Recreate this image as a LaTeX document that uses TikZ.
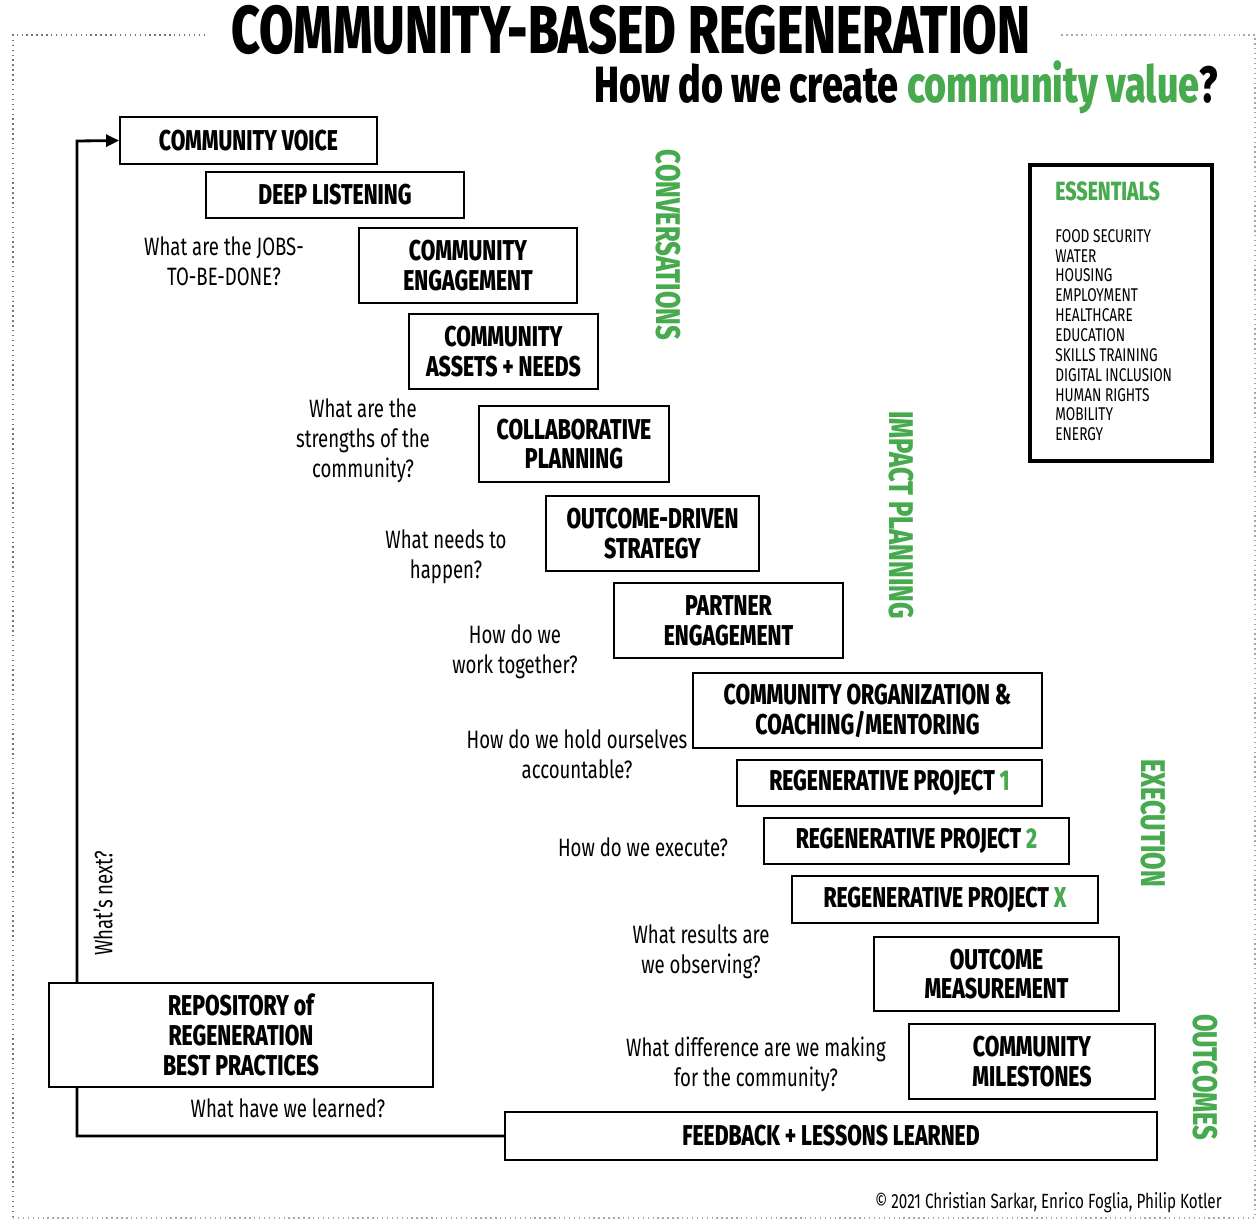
\documentclass[tikz,border=0pt]{standalone}
\usepackage{fontspec}
\setmainfont{Fira Sans}[FakeStretch=0.74,BoldFont={Fira Sans ExtraBold}]
\usetikzlibrary{arrows.meta,positioning}
\definecolor{ecogreen}{RGB}{72,170,78}

\begin{document}
\begin{tikzpicture}[x=0.02cm,y=-0.02cm]
\tikzset{
  stepbox/.style={draw=black,line width=1.1pt,fill=white,align=center,inner sep=1pt,font=\bfseries\fontsize{16.3}{17}\selectfont},
  question/.style={align=center,inner sep=1pt,font=\fontsize{14.3}{17}\selectfont},
  phase/.style={rotate=-90,text=ecogreen,inner sep=1pt,font=\bfseries\fontsize{19.5}{20}\selectfont},
  loopline/.style={draw=black,line width=1.6pt,-{Triangle[length=2.6mm,width=2.4mm]}},
  frameline/.style={draw=gray!70,line width=0.8pt,dotted}
}
\useasboundingbox (0,0) rectangle (1258,1221);
% frame and headings
\draw[frameline,draw=gray!90!black] (205,35) -- (13,35) -- (13,1218);
\draw[frameline] (13,1218) -- (1255,1218) -- (1255,35) -- (1058,35);
\node[font=\bfseries\fontsize{38.5}{40}\selectfont] (title) at (631,30) {COMMUNITY-BASED REGENERATION};
\node[anchor=east,font=\bfseries\fontsize{29}{30}\selectfont] (subtitle) at (1224,87)
  {How do we create \textcolor{ecogreen}{community value}?};

% steps
\node[stepbox,minimum width=5.14cm,minimum height=0.94cm] (voice) at (248.5,140.5) {COMMUNITY VOICE};
\node[stepbox,minimum width=5.16cm,minimum height=0.92cm] (listening) at (335,195) {DEEP LISTENING};
\node[stepbox,minimum width=4.36cm,minimum height=1.5cm] (engage) at (468,265.5) {COMMUNITY\\ENGAGEMENT};
\node[stepbox,minimum width=3.78cm,minimum height=1.5cm] (assets) at (503.5,351.5) {COMMUNITY\\ASSETS + NEEDS};
\node[stepbox,minimum width=3.8cm,minimum height=1.52cm] (collab) at (574,444) {COLLABORATIVE\\PLANNING};
\node[stepbox,minimum width=4.26cm,minimum height=1.5cm] (strategy) at (652.5,533.5) {OUTCOME-DRIVEN\\STRATEGY};
\node[stepbox,minimum width=4.58cm,minimum height=1.5cm] (partner) at (728.5,620.5) {PARTNER\\ENGAGEMENT};
\node[stepbox,minimum width=6.98cm,minimum height=1.5cm] (organize) at (867.5,710.5) {COMMUNITY ORGANIZATION \&\\COACHING/MENTORING};
\node[stepbox,minimum width=6.1cm,minimum height=0.92cm] (projone) at (889.5,783) {REGENERATIVE PROJECT \textcolor{ecogreen}{1}};
\node[stepbox,minimum width=6.1cm,minimum height=0.92cm] (projtwo) at (916.5,841) {REGENERATIVE PROJECT \textcolor{ecogreen}{2}};
\node[stepbox,minimum width=6.12cm,minimum height=0.94cm] (projx) at (945,899.5) {REGENERATIVE PROJECT \textcolor{ecogreen}{X}};
\node[stepbox,minimum width=4.9cm,minimum height=1.48cm] (measure) at (996.5,974) {OUTCOME\\MEASUREMENT};
\node[stepbox,minimum width=4.92cm,minimum height=1.5cm] (milestone) at (1032,1061.5) {COMMUNITY\\MILESTONES};
\node[stepbox,minimum width=13.04cm,minimum height=0.96cm] (feedback) at (831,1136) {FEEDBACK + LESSONS LEARNED};

% loop back to the start
\coordinate (looptop) at (77,141);
\draw[loopline] (feedback.west) -| (looptop) -- (voice.west);
\node[stepbox,minimum width=7.68cm,minimum height=2.08cm] (repository) at (241,1035) {REPOSITORY of\\REGENERATION\\BEST PRACTICES};

% questions
\node[question] (qjobs) at (224,261) {What are the JOBS-\\TO-BE-DONE?};
\node[question] (qstrength) at (363,441) {What are the\\strengths of the\\community?};
\node[question] (qneeds) at (446,557) {What needs to\\happen?};
\node[question] (qtogether) at (515,652) {How do we\\work together?};
\node[question] (qaccount) at (577,754) {How do we hold ourselves\\accountable?};
\node[question] (qexecute) at (643,847) {How do we execute?};
\node[question] (qresults) at (701,952) {What results are\\we observing?};
\node[question] (qdiff) at (756,1064) {What difference are we making\\for the community?};
\node[question] (qlearned) at (288,1108) {What have we learned?};
\node[question,rotate=90] (qnext) at (103,903) {What’s next?};

% phases
\node[phase] (conv) at (668,245) {CONVERSATIONS};
\node[phase] (impact) at (901,515) {IMPACT PLANNING};
\node[phase] (exec) at (1153,823) {EXECUTION};
\node[phase] (outc) at (1205,1077) {OUTCOMES};

% essentials
\node[draw=black,line width=1.8pt,minimum width=3.64cm,minimum height=5.92cm] (essentials) at (1121,313) {};
\node[anchor=west,inner sep=0pt,text=ecogreen,font=\bfseries\fontsize{15}{17}\selectfont] (esstitle) at (1055,191) {ESSENTIALS};
\node[anchor=north west,inner sep=0pt,align=left,font=\fontsize{10.5}{11.3}\selectfont] (esslist) at (1055,229)
  {FOOD SECURITY\\WATER\\HOUSING\\EMPLOYMENT\\HEALTHCARE\\EDUCATION\\SKILLS TRAINING\\DIGITAL INCLUSION\\HUMAN RIGHTS\\MOBILITY\\ENERGY};

\node[anchor=east,inner sep=0pt,font=\fontsize{11.7}{14}\selectfont] (credit) at (1222,1203) {© 2021 Christian Sarkar, Enrico Foglia, Philip Kotler};
\end{tikzpicture}
\end{document}
